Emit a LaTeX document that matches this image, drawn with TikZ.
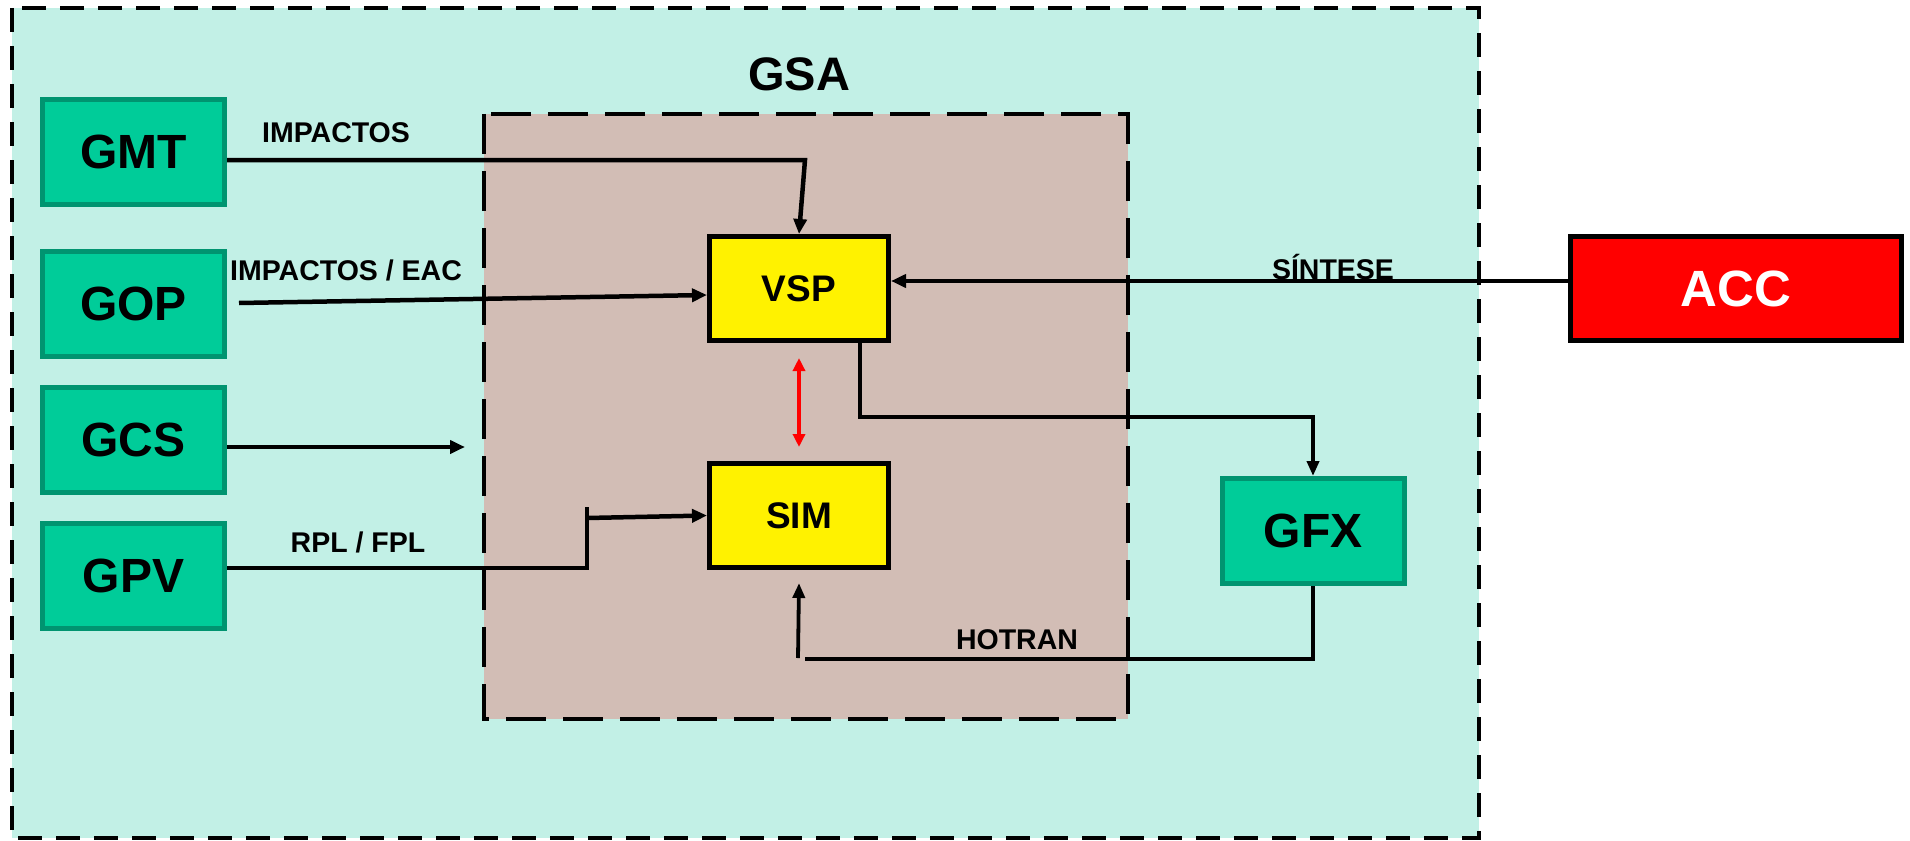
\documentclass[tikz,border=0pt]{standalone}
\usepackage{fontspec}
\setmainfont{Liberation Sans}
\usetikzlibrary{arrows.meta}
\definecolor{aquabg}{HTML}{C2F0E6}
\definecolor{brownbg}{HTML}{D2BDB5}
\definecolor{gfill}{HTML}{00CC99}
\definecolor{gline}{HTML}{009470}
\begin{document}
\begin{tikzpicture}[x=1pt,y=-1pt,
  outerbox/.style={fill=aquabg,draw=black,line width=4.5pt,dash pattern=on 24pt off 14pt},
  innerbox/.style={fill=brownbg,draw=black,line width=4.5pt,dash pattern=on 40pt off 17pt},
  gbox/.style={draw=gline,fill=gfill,line width=5pt,minimum width=182pt,minimum height=105pt,inner sep=0pt,
    font=\fontsize{48}{52}\selectfont\bfseries},
  ybox/.style={draw=black,fill=yellow,line width=5pt,minimum width=179pt,minimum height=104pt,inner sep=0pt,
    font=\fontsize{37}{40}\selectfont\bfseries},
  rbox/.style={draw=black,fill=red,line width=5pt,minimum width=331pt,minimum height=104pt,inner sep=0pt,
    text=white,font=\fontsize{51}{54}\selectfont\bfseries},
  lbl/.style={font=\fontsize{28.5}{30}\selectfont\bfseries,inner sep=0pt},
  conn/.style={draw=black,line width=4.5pt,-{Triangle[length=15pt,width=13pt]}},
  plain/.style={draw=black,line width=4.5pt},
  thinarr/.style={draw=black,line width=3.8pt,-{Triangle[length=15pt,width=12pt]}},
  redarr/.style={draw=red,line width=3.5pt,{Triangle[length=13pt,width=12pt]}-{Triangle[length=13pt,width=12pt]}}
]
\useasboundingbox (0,0) rectangle (1910,840);
\draw[outerbox] (12,8) rectangle (1479,838);
\draw[innerbox] (484,114) rectangle (1128,719);
\node[font=\fontsize{47}{50}\selectfont\bfseries] (GSA) at (799,74) {GSA};

\node[gbox] (GMT) at (133.5,152) {GMT};
\node[gbox] (GOP) at (133.5,303.5) {GOP};
\node[gbox] (GCS) at (133.5,440) {GCS};
\node[gbox] (GPV) at (133.5,576) {GPV};
\node[gbox] (GFX) at (1313,531) {GFX};
\node[ybox] (VSP) at (799,288.5) {VSP};
\node[ybox] (SIM) at (799,515.5) {SIM};
\node[rbox] (ACC) at (1736,288.5) {ACC};

\coordinate (gmtbend) at (805,160);
\coordinate (gopstart) at (239,303);
\coordinate (gcsend) at (465,447);
\coordinate (gpvbend) at (587,568);
\coordinate (gpvtop) at (587,507);
\coordinate (gpvmid) at (587,518);
\coordinate (hotcorner) at (805,659);
\coordinate (hotstart) at (798,658);

% GMT -> VSP
\draw[conn] ([yshift=-8pt]GMT.east) -- (gmtbend) -- (VSP.north);
\node[lbl] (lImp) at (336,133) {IMPACTOS};
% GOP -> VSP
\draw[conn] (gopstart) -- ([yshift=-6.5pt]VSP.west);
\node[lbl] (lImpEac) at (346,270) {IMPACTOS / EAC};
% GCS
\draw[conn] ([yshift=-7pt]GCS.east) -- (gcsend);
% GPV -> SIM
\draw[plain] ([yshift=8pt]GPV.east) -- (gpvbend) -- (gpvtop);
\draw[conn] (gpvmid) -- (SIM.west);
\node[lbl] (lRpl) at (358,542) {RPL / FPL};
% VSP <-> SIM
\draw[redarr] ([yshift=-15pt]VSP.south) -- ([yshift=14pt]SIM.north);
% VSP -> GFX
\draw[thinarr] ([xshift=61pt]VSP.south) -- ++(0,74) -| (GFX.north);
% GFX -> SIM
\draw[plain] (GFX.south) |- (hotcorner);
\draw[thinarr] (hotstart) -- ([yshift=-13pt]SIM.south);
\node[lbl] (lHot) at (1017,640) {HOTRAN};
% ACC -> VSP
\draw[conn] ([yshift=7.5pt]ACC.west) -- ([yshift=7.5pt]VSP.east);
\node[lbl] (lSin) at (1333,267) {SÍNTESE};
\end{tikzpicture}
\end{document}
